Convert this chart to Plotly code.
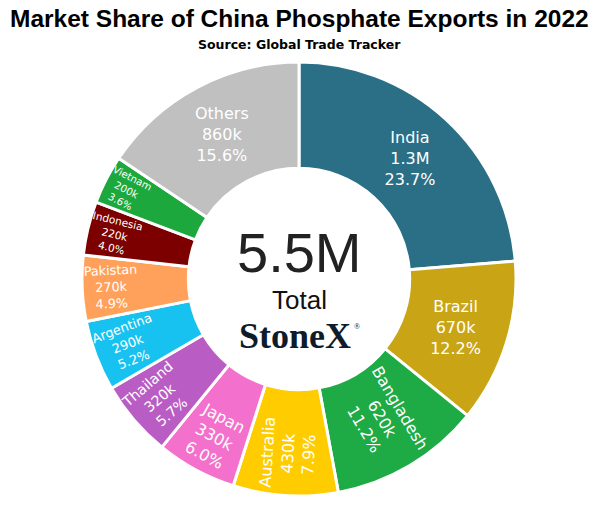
import plotly.graph_objects as go

countries = ["India", "Brazil", "Bangladesh", "Australia", "Japan", "Thailand",
             "Argentina", "Pakistan", "Indonesia", "Vietnam", "Others"]
values_k = [1305, 670, 620, 430, 330, 315, 290, 270, 220, 200, 860]
value_labels = ["1.3M", "670k", "620k", "430k", "330k", "320k",
                "290k", "270k", "220k", "200k", "860k"]
pct_labels = ["23.7%", "12.2%", "11.2%", "7.9%", "6.0%", "5.7%",
              "5.2%", "4.9%", "4.0%", "3.6%", "15.6%"]
colors = ["#2B6F87", "#C9A515", "#1EAA45", "#FFCC00", "#F370CC", "#B95CC3",
          "#18C2F0", "#FFA15A", "#7C0000", "#1CA83C", "#C0C0C0"]
# label orientation used for each slice in the reference
orientation = ["horizontal", "horizontal", "radial", "radial", "tangential", "radial",
               "radial", "radial", "radial", "radial", "horizontal"]

texts = [f"{c}<br>{v}<br>{p}" for c, v, p in zip(countries, value_labels, pct_labels)]

fig = go.Figure()
# base ring with colours
fig.add_trace(go.Pie(
    labels=countries, values=values_k, sort=False, direction="clockwise", rotation=0,
    hole=0.51, textinfo="none",
    marker=dict(colors=colors, line=dict(color="white", width=3)),
    showlegend=False,
))
# transparent overlays carrying the labels in each orientation
for orient in ["horizontal", "radial", "tangential"]:
    t = [txt if o == orient else "" for txt, o in zip(texts, orientation)]
    fig.add_trace(go.Pie(
        labels=countries, values=values_k, text=t, textinfo="text",
        sort=False, direction="clockwise", rotation=0, hole=0.51,
        marker=dict(colors=["rgba(0,0,0,0)"] * len(countries), line=dict(width=0)),
        textfont=dict(family="DejaVu Sans", size=16, color="white"),
        insidetextorientation=orient, textposition="inside",
        hoverinfo="skip", showlegend=False,
    ))

plot_bottom = 496
plot_h = 434

def py(y):
    return (plot_bottom - y) / plot_h

fig.add_annotation(text="<b>Market Share of China Phosphate Exports in 2022</b>",
                   x=0.5, y=py(19), xref="paper", yref="paper", showarrow=False,
                   font=dict(family="Liberation Sans", size=24.5, color="black"),
                   xanchor="center", yanchor="middle")
fig.add_annotation(text="<b>Source: Global Trade Tracker</b>",
                   x=0.5, y=py(44), xref="paper", yref="paper", showarrow=False,
                   font=dict(family="DejaVu Sans", size=12.5, color="black"),
                   xanchor="center", yanchor="middle")
fig.add_annotation(text="5.5M", x=0.5, y=py(252), xref="paper", yref="paper",
                   showarrow=False, xanchor="center", yanchor="middle",
                   font=dict(family="Liberation Sans", size=56, color="#222222"))
fig.add_annotation(text="Total", x=0.5, y=py(300), xref="paper", yref="paper",
                   showarrow=False, xanchor="center", yanchor="middle",
                   font=dict(family="Liberation Sans", size=26, color="#111111"))
fig.add_annotation(text="<b>StoneX</b>", x=295 / 598, y=py(336), xref="paper", yref="paper",
                   showarrow=False, xanchor="center", yanchor="middle",
                   font=dict(family="Liberation Serif", size=36, color="#0D1B2A"))
fig.add_annotation(text="®", x=357 / 598, y=py(326), xref="paper", yref="paper",
                   showarrow=False, xanchor="center", yanchor="middle",
                   font=dict(family="Liberation Serif", size=8, color="#0D1B2A"))

fig.update_layout(
    width=600, height=507,
    margin=dict(l=0, r=2, t=plot_bottom - plot_h, b=507 - plot_bottom),
    paper_bgcolor="white",
    plot_bgcolor="white",
)
fig.write_html("out.html")
